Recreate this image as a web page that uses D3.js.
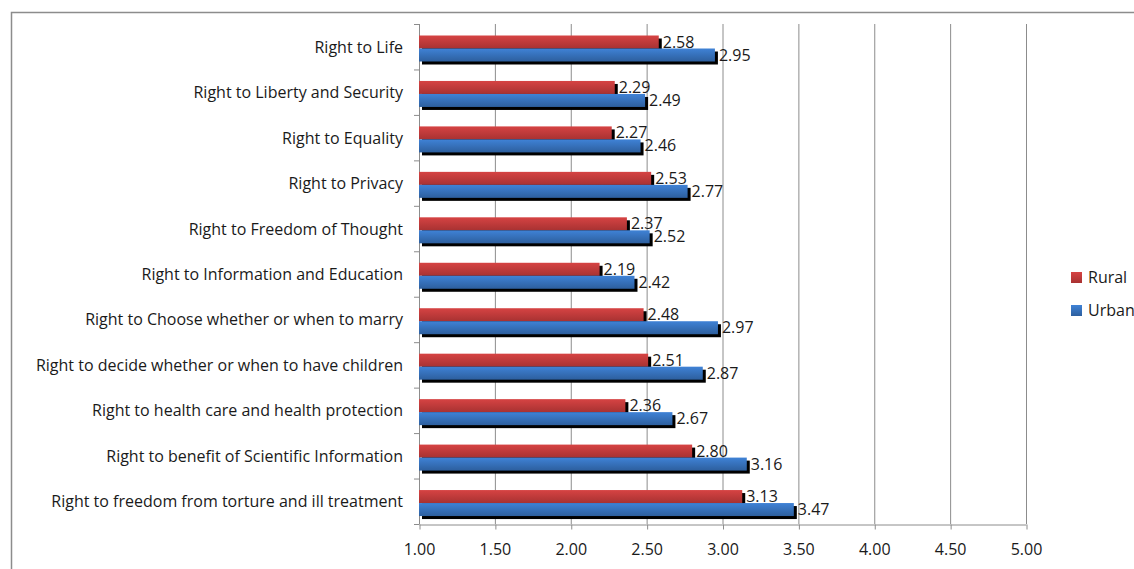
<!DOCTYPE html>
<html>
<head>
<meta charset="utf-8">
<script src="https://cdn.jsdelivr.net/npm/d3@7"></script>
<style>
  body { margin: 0; background: #fff; }
  text { font-family: "Open Sans", "Noto Sans", sans-serif; fill: #1a1a1a; }
</style>
</head>
<body>
<svg id="chart" width="1134" height="569"></svg>
<script>
// data
const categories = [
  "Right to Life",
  "Right to Liberty and Security",
  "Right to Equality",
  "Right to Privacy",
  "Right to Freedom of Thought",
  "Right to Information and Education",
  "Right to Choose whether or when to marry",
  "Right to decide whether or when to have children",
  "Right to health care and health protection",
  "Right to benefit of Scientific Information",
  "Right to freedom from torture and ill treatment"
];
const rural = [2.58, 2.29, 2.27, 2.53, 2.37, 2.19, 2.48, 2.51, 2.36, 2.80, 3.13];
const urban = [2.95, 2.49, 2.46, 2.77, 2.52, 2.42, 2.97, 2.87, 2.67, 3.16, 3.47];
const seriesNames = ["Rural", "Urban"];
const xTicks = [1, 1.5, 2, 2.5, 3, 3.5, 4, 4.5, 5];

const svg = d3.select("#chart");
const plotL = 419, plotR = 1026, plotT = 24, plotB = 524;
const fs = 16;

const x = d3.scaleLinear().domain([1, 5]).range([plotL, plotR]);
const y = d3.scaleBand().domain(categories).range([plotT, plotB]);

// gradients
const defs = svg.append("defs");
function grad(id, c1, c2) {
  const g = defs.append("linearGradient").attr("id", id)
    .attr("x1", 0).attr("y1", 0).attr("x2", 0).attr("y2", 1);
  g.append("stop").attr("offset", "0%").attr("stop-color", c1);
  g.append("stop").attr("offset", "100%").attr("stop-color", c2);
}
grad("gRural", "#d64343", "#a83232");
grad("gUrban", "#3f82d6", "#2d5f9e");

// outer frame
svg.append("path")
  .attr("d", "M11.5,569 L11.5,12.5 L1134,12.5")
  .attr("fill", "none").attr("stroke", "#8c8c8c").attr("stroke-width", 1.5);

// gridlines
svg.append("g").selectAll("line")
  .data(xTicks.slice(1))
  .join("line")
  .attr("x1", d => x(d) + 0.5).attr("x2", d => x(d) + 0.5)
  .attr("y1", plotT).attr("y2", plotB)
  .attr("stroke", "#8c8c8c").attr("stroke-width", 1);

// bottom axis
const xAxis = svg.append("g")
  .attr("transform", "translate(0," + (plotB + 0.5) + ")")
  .call(d3.axisBottom(x).tickValues(xTicks).tickFormat(d3.format(".2f")).tickSize(5).tickSizeOuter(0));
xAxis.select(".domain").attr("stroke", "#8c8c8c");
xAxis.selectAll(".tick line").attr("stroke", "#8c8c8c").attr("transform", "translate(0.5,0)");
xAxis.selectAll("text").attr("font-size", fs).attr("y", 30).attr("dy", 0)
  .style("font-family", '"Open Sans", sans-serif').attr("fill", "#1a1a1a");

// left axis: tick marks at band boundaries
const yAxis = svg.append("g");
yAxis.append("line")
  .attr("x1", plotL + 0.5).attr("x2", plotL + 0.5).attr("y1", plotT).attr("y2", plotB)
  .attr("stroke", "#8c8c8c");
yAxis.selectAll(".bt")
  .data(d3.range(categories.length + 1))
  .join("line")
  .attr("x1", plotL - 5).attr("x2", plotL + 0.5)
  .attr("y1", i => plotT + i * y.step() + 0.5).attr("y2", i => plotT + i * y.step() + 0.5)
  .attr("stroke", "#8c8c8c");
yAxis.selectAll("text")
  .data(categories)
  .join("text")
  .attr("x", 403)
  .attr("y", d => y(d) + y.bandwidth() / 2 + 6)
  .attr("text-anchor", "end")
  .attr("font-size", fs)
  .text(d => d);

// bars
const barH = 13, shadow = 3;
const rows = categories.map((c, i) => ({ c, r: rural[i], u: urban[i] }));
const g = svg.append("g");

rows.forEach(d => {
  const y0 = y(d.c) + 11.5;
  const series = [
    { v: d.r, yy: y0, fill: "url(#gRural)" },
    { v: d.u, yy: y0 + barH, fill: "url(#gUrban)" }
  ];
  series.forEach(s => {
    g.append("rect")
      .attr("x", x(1) + shadow).attr("y", s.yy + shadow)
      .attr("width", x(s.v) - x(1)).attr("height", barH)
      .attr("fill", "#000");
  });
  series.forEach(s => {
    g.append("rect")
      .attr("x", x(1)).attr("y", s.yy)
      .attr("width", x(s.v) - x(1)).attr("height", barH)
      .attr("fill", s.fill);
  });
  series.forEach(s => {
    g.append("text")
      .attr("x", x(s.v) + shadow + 1)
      .attr("y", s.yy + barH - 1)
      .attr("font-size", fs)
      .text(d3.format(".2f")(s.v));
  });
});

// legend
const legend = svg.append("g");
const legendFill = ["url(#gRural)", "url(#gUrban)"];
seriesNames.forEach((n, i) => {
  legend.append("rect")
    .attr("x", 1071).attr("y", 272 + i * 33)
    .attr("width", 11).attr("height", 11)
    .attr("fill", legendFill[i]);
  legend.append("text")
    .attr("x", 1088).attr("y", 283 + i * 33)
    .attr("font-size", fs)
    .text(n);
});
</script>
</body>
</html>
